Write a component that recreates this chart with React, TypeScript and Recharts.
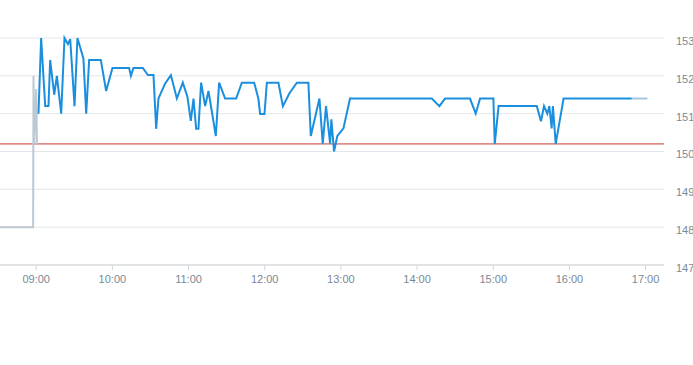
import React from 'react';
import { LineChart, Line, XAxis, YAxis, CartesianGrid, ReferenceLine } from 'recharts';

// minutes after midnight
const preTimes = [511.5, 537.6, 537.9, 538.4, 540.0, 540.6];
const preValues = [148.0, 148.0, 152.0, 150.2, 151.65, 150.2];

const sessionTimes = [
    541.8, 543.9, 547.1, 549.7, 551.0, 554.2, 556.3, 559.7, 562.3, 565.0,
    566.8, 570.2, 572.5, 577.2, 579.4, 581.7, 590.9, 595.1, 600.1, 613.2,
    614.6, 616.6, 624.0, 628.0, 632.4, 634.5, 636.3, 641.6, 646.1, 650.8,
    655.5, 659.1, 661.8, 663.9, 666.0, 667.8, 669.9, 673.1, 675.7, 681.5,
    684.1, 688.8, 697.5, 702.0, 711.7, 715.0, 716.4, 719.8, 721.7, 730.8,
    734.3, 739.5, 745.3, 754.4, 756.3, 763.1, 765.7, 768.3, 771.5, 772.5,
    774.6, 777.2, 782.0, 787.2, 851.6, 857.6, 862.0, 881.7, 886.2, 889.6,
    900.1, 901.2, 904.2, 934.3, 937.6, 940.0, 942.6, 944.2, 946.0, 947.0,
    949.2, 955.4, 1009.1,
];
const sessionValues = [
    151.0, 153.0, 151.2, 151.2, 152.42, 151.5, 152.0, 151.0, 153.0, 152.84,
    152.97, 151.2, 153.0, 152.46, 151.0, 152.42, 152.42, 151.6, 152.21, 152.21,
    152.0, 152.21, 152.21, 152.02, 152.02, 150.6, 151.4, 151.8, 152.02, 151.4,
    151.82, 151.45, 150.81, 151.4, 150.6, 150.6, 151.82, 151.2, 151.6, 150.41,
    151.82, 151.4, 151.4, 151.82, 151.82, 151.4, 150.99, 150.99, 151.82, 151.82,
    151.2, 151.54, 151.82, 151.82, 150.41, 151.4, 150.21, 151.2, 150.21, 150.85,
    150.0, 150.41, 150.61, 151.4, 151.4, 151.2, 151.4, 151.4, 151.0, 151.4,
    151.4, 150.2, 151.2, 151.2, 150.8, 151.2, 151.0, 151.2, 150.61, 151.2,
    150.2, 151.4, 151.4,
];

const postTimes = [1009.1, 1021.4];
const postValues = [151.4, 151.4];

const previousClose = 150.2;
const xTicks = [540, 600, 660, 720, 780, 840, 900, 960, 1020];
const yTicks = [147, 148, 149, 150, 151, 152, 153];

const toRows = (times: number[], values: number[]) =>
    times.map((t, i) => ({ t, price: values[i] }));

const fmtTime = (m: number) => {
    const h = Math.floor(m / 60);
    const mm = Math.round(m % 60);
    return `${String(h).padStart(2, '0')}:${String(mm).padStart(2, '0')}`;
};

const tickStyle = { fill: '#7b8896', fontSize: 11, fontFamily: '"Liberation Sans Narrow", "Liberation Sans", sans-serif' };

export default function App() {
    return (
        <div style={{ position: 'absolute', left: 0, top: 0, width: 693, height: 365, background: '#fff' }}>
            <LineChart width={693} height={365} margin={{ top: 38, right: 0, left: 0, bottom: 70 }}>
                <CartesianGrid horizontal vertical={false} stroke="#e4e6e8" />
                <XAxis
                    type="number"
                    dataKey="t"
                    domain={[511.5, 1034.5]}
                    ticks={xTicks}
                    tickFormatter={fmtTime}
                    stroke="#cfd4d8"
                    tick={tickStyle}
                    tickSize={5}
                    tickMargin={5}
                    height={30}
                    allowDuplicatedCategory={false}
                />
                <YAxis
                    orientation="right"
                    type="number"
                    domain={[147, 153]}
                    ticks={yTicks}
                    axisLine={false}
                    tickLine={false}
                    tick={{ ...tickStyle, dy: 3 }}
                    tickSize={10}
                    tickMargin={2}
                    width={29}
                />
                <ReferenceLine y={previousClose} stroke="#cc3a30" strokeWidth={1} />
                <Line
                    data={toRows(preTimes, preValues)}
                    dataKey="price"
                    type="linear"
                    stroke="#bcc8d3"
                    strokeWidth={2}
                    dot={false}
                    isAnimationActive={false}
                />
                <Line
                    data={toRows(postTimes, postValues)}
                    dataKey="price"
                    type="linear"
                    stroke="#a6c6dd"
                    strokeWidth={2}
                    dot={false}
                    isAnimationActive={false}
                />
                <Line
                    data={toRows(sessionTimes, sessionValues)}
                    dataKey="price"
                    type="linear"
                    stroke="#1b8fdd"
                    strokeWidth={2}
                    dot={false}
                    isAnimationActive={false}
                />
            </LineChart>
        </div>
    );
}
